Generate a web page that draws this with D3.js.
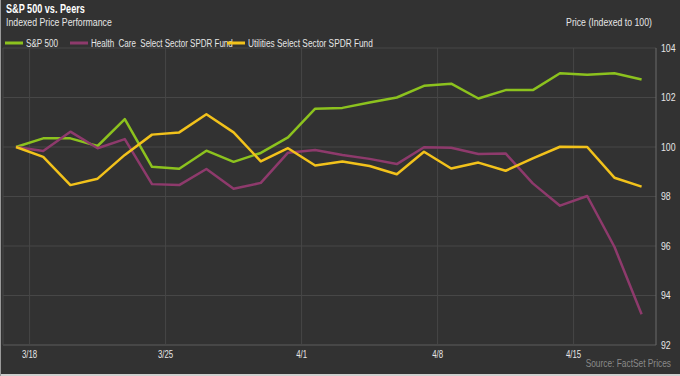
<!DOCTYPE html>
<html>
<head>
<meta charset="utf-8">
<script src="https://cdn.jsdelivr.net/npm/d3@7"></script>
<style>
  html, body { margin: 0; padding: 0; background: #323232; }
  svg { display: block; }
  text { font-family: "Liberation Sans", Arial, sans-serif; }
</style>
</head>
<body>
<div id="chart"></div>
<script>
// Ngày giao dịch (trục X) 
const dates = ["3/18","3/19","3/20","3/21","3/22","3/25","3/26","3/27","3/28","3/29",
               "4/1","4/2","4/3","4/4","4/5","4/8","4/9","4/10","4/11","4/12",
               "4/15","4/16","4/17","4/18"];
const xTicks = ["3/18", "3/25", "4/1", "4/8", "4/15"];
const yTicks = [92, 94, 96, 98, 100, 102, 104];

// Giá trị các chuỗi (chỉ số = 100)
const spx = [100, 100.35, 100.35, 100.04, 101.13, 99.2, 99.12, 99.85, 99.4, 99.76,
             100.39, 101.55, 101.58, 101.8, 102.0, 102.47, 102.56, 101.96, 102.3, 102.3,
             102.98, 102.92, 102.98, 102.73];
const healthCare = [100, 99.84, 100.62, 99.95, 100.32, 98.5, 98.46, 99.11, 98.31, 98.55,
                    99.77, 99.88, 99.68, 99.52, 99.31, 99.99, 99.97, 99.72, 99.74, 98.53,
                    97.63, 98.02, 95.97, 93.24];
const utilities = [100, 99.6, 98.46, 98.72, 99.68, 100.5, 100.59, 101.32, 100.59, 99.42,
                   99.95, 99.25, 99.41, 99.23, 98.9, 99.81, 99.13, 99.37, 99.04, 99.54,
                   100.01, 100.0, 98.76, 98.4];

const seriesNames = ["S&P 500", "Health  Care  Select Sector SPDR Fund", "Utilities Select Sector SPDR Fund"];
const seriesColors = ["#8cc21e", "#8e3a6c", "#f2c21b"];

const width = 680, height = 376;
const plot = { left: 3, right: 656, top: 48, bottom: 345 };

// Font hẹp không có sẵn -> nén chữ theo chiều ngang (giữ nguyên điểm neo x)
function narrow(sel, k, targetW) {
    sel.each(function() {
        const el = d3.select(this);
        const ax = +el.attr("x");
        const s = targetW ? targetW / this.getComputedTextLength() : k;
        el.attr("transform", `translate(${ax * (1 - s)},0) scale(${s},1)`);
    });
}
const K = 0.76;

const svg = d3.select("#chart").append("svg")
    .attr("width", width)
    .attr("height", height);

svg.append("rect").attr("width", width).attr("height", height).attr("fill", "#323232");

// Tiêu đề
svg.append("text").attr("x", 6).attr("y", 13)
    .attr("fill", "#ffffff").attr("font-size", 12).attr("font-weight", "bold")
    .text("S&P 500 vs. Peers").call(narrow, K);
svg.append("text").attr("x", 6).attr("y", 26)
    .attr("fill", "#e6e6e6").attr("font-size", 11.5)
    .text("Indexed Price Performance").call(narrow, K);
svg.append("text").attr("x", 652).attr("y", 26).attr("text-anchor", "end")
    .attr("fill", "#e6e6e6").attr("font-size", 11.5)
    .text("Price (Indexed to 100)").call(narrow, K);

// Scales
const x = d3.scaleBand().domain(dates).range([16, 16 + dates.length * 27.2]);
const y = d3.scaleLinear().domain([92, 104]).range([plot.bottom, plot.top]);
const half = x.bandwidth() / 2;

// Lưới
const grid = svg.append("g");
grid.selectAll(".hgrid").data(yTicks).enter().append("line")
    .attr("x1", plot.left).attr("x2", plot.right)
    .attr("y1", d => y(d)).attr("y2", d => y(d))
    .attr("stroke", d => d === 92 ? "#5c5c5c" : "#474747").attr("stroke-width", 1);
grid.selectAll(".vgrid").data(xTicks).enter().append("line")
    .attr("x1", d => x(d) + half).attr("x2", d => x(d) + half)
    .attr("y1", plot.top).attr("y2", plot.bottom)
    .attr("stroke", "#474747").attr("stroke-width", 1);
grid.append("line").attr("x1", plot.left).attr("x2", plot.left)
    .attr("y1", plot.top).attr("y2", plot.bottom).attr("stroke", "#474747");
grid.append("line").attr("x1", plot.right).attr("x2", plot.right)
    .attr("y1", plot.top).attr("y2", plot.bottom).attr("stroke", "#6a6a6a");

// Nhãn trục
svg.selectAll(".ylab").data(yTicks).enter().append("text")
    .attr("x", 661).attr("y", d => y(d) + 4)
    .attr("fill", "#e6e6e6").attr("font-size", 11.5)
    .text(d => d).call(narrow, K);
svg.selectAll(".xlab").data(xTicks).enter().append("text")
    .attr("x", d => x(d) + half).attr("y", 358).attr("text-anchor", "middle")
    .attr("fill", "#e6e6e6").attr("font-size", 11.5)
    .text(d => d).call(narrow, 0.68);
svg.append("text").attr("x", 671).attr("y", 367).attr("text-anchor", "end")
    .attr("fill", "#8a8a8a").attr("font-size", 11)
    .text("Source: FactSet Prices").call(narrow, K);

// Đường dữ liệu
const line = d3.line().x((d, i) => x(dates[i])).y(d => y(d));
[spx, healthCare, utilities].forEach((values, i) => {
    svg.append("path").datum(values)
        .attr("d", line)
        .attr("fill", "none")
        .attr("stroke", seriesColors[i])
        .attr("stroke-width", 2.5)
        .attr("stroke-linejoin", "round");
});

// Chú giải
const legendX = [5, 70, 227];
const legendW = [32, 142, 125];
const legend = svg.append("g");
seriesNames.forEach((name, i) => {
    legend.append("line")
        .attr("x1", legendX[i]).attr("x2", legendX[i] + 18)
        .attr("y1", 43).attr("y2", 43)
        .attr("stroke", seriesColors[i]).attr("stroke-width", 3);
    legend.append("text")
        .attr("x", legendX[i] + 21).attr("y", 47)
        .attr("fill", "#e6e6e6").attr("font-size", 11.5)
        .attr("xml:space", "preserve")
        .style("white-space", "pre")
        .text(name)
        .call(narrow, K, legendW[i]);
});

// Viền
svg.append("line").attr("x1", 0).attr("x2", width).attr("y1", 375).attr("y2", 375)
    .attr("stroke", "#cfcfcf").attr("stroke-width", 2);
svg.append("line").attr("x1", 0.5).attr("x2", 0.5).attr("y1", 0).attr("y2", height)
    .attr("stroke", "#9a9a9a").attr("stroke-width", 1);
</script>
</body>
</html>
